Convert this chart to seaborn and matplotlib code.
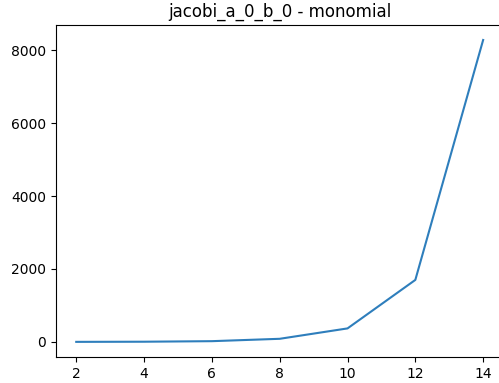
import numpy as np
import matplotlib
matplotlib.use("Agg")
import matplotlib.pyplot as plt
import seaborn as sns

degree = [2, 4, 6, 8, 10, 12, 14]
cond = [1, 5, 20, 85, 370, 1700, 8280]

fig, ax = plt.subplots(figsize=(4.99, 3.83), dpi=100)
sns.lineplot(x=degree, y=cond, ax=ax, color="#2e7ebc")
ax.set_title("jacobi_a_0_b_0 - monomial")
ax.set_xticks([2, 4, 6, 8, 10, 12, 14])
# plot area runs a little past the right edge, as in the original crop
fig.subplots_adjust(left=0.112, right=1.009, top=0.935, bottom=0.068)
fig.savefig("out.png", dpi=100)
